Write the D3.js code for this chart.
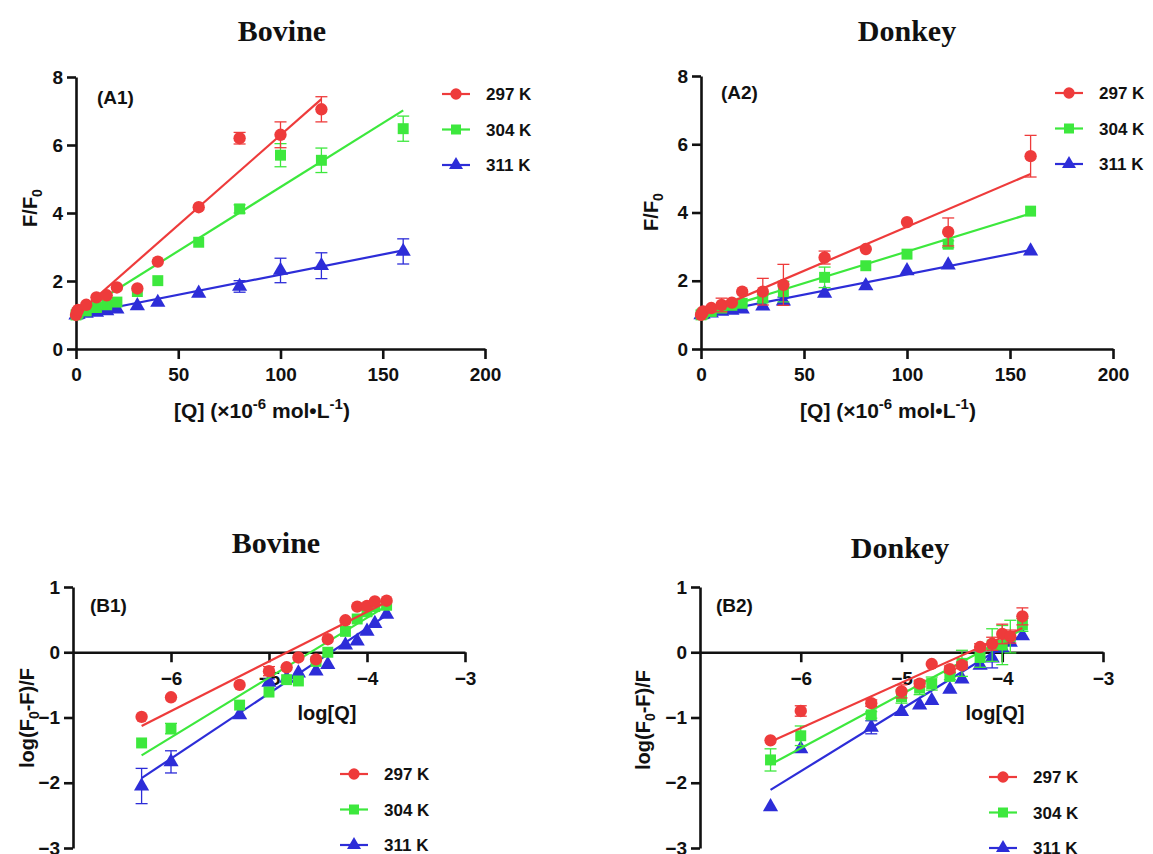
<!DOCTYPE html>
<html>
<head>
<meta charset="utf-8">
<script src="https://cdn.jsdelivr.net/npm/d3@7"></script>
<style>
  body { margin: 0; background: #fff; }
  text { font-family: "Liberation Sans", Arial, sans-serif; font-weight: bold; }
  .title { font-family: "Liberation Serif", "Times New Roman", serif; font-size: 30px; }
</style>
</head>
<body>
<svg id="chart" width="1153" height="854"></svg>
<script>
// ---- data ----
const temps = ["297 K", "304 K", "311 K"]
const colors = ["#ee3b3b", "#3de83d", "#2d2dd8"]
const shapes = [d3.symbolCircle, d3.symbolSquare, d3.symbolTriangle]

// Stern-Volmer, [Q] in 1e-6 mol/L
const qA = [0, 0.5, 1, 5, 10, 15, 20, 30, 40, 60, 80, 100, 120, 160]
const bovA_297 = [1.0, 1.1, 1.15, 1.30, 1.52, 1.58, 1.81, 1.78, 2.57, 4.17, 6.20, 6.30, 7.05, null]
const bovA_304 = [1.0, 1.03, 1.06, 1.12, 1.22, 1.30, 1.38, 1.69, 2.01, 3.14, 4.12, 5.70, 5.55, 6.48]
const bovA_311 = [1.0, 1.01, 1.02, 1.05, 1.08, 1.12, 1.17, 1.27, 1.37, 1.64, 1.84, 2.31, 2.45, 2.87]
const bovA_297_err = [0, 0, 0, 0, 0, 0, 0, 0, 0, 0, 0.17, 0.38, 0.37, null]
const bovA_304_err = [0, 0, 0, 0, 0, 0, 0, 0, 0, 0, 0.12, 0.34, 0.36, 0.37]
const bovA_311_err = [0, 0, 0, 0, 0, 0, 0, 0, 0, 0, 0.17, 0.36, 0.38, 0.37]
// fitted lines: [x0, y0, x1, y1]
const bovA_fit = [[0, 1.0, 120, 7.35], [0, 1.0, 160, 7.02], [0, 1.0, 160, 2.90]]

const donA_297 = [1.0, 1.05, 1.1, 1.2, 1.29, 1.36, 1.68, 1.68, 1.88, 2.68, 2.93, 3.72, 3.43, 5.65]
const donA_304 = [1.0, 1.02, 1.05, 1.1, 1.2, 1.28, 1.34, 1.49, 1.68, 2.10, 2.44, 2.78, 3.07, 4.04]
const donA_311 = [1.0, 1.01, 1.02, 1.05, 1.1, 1.13, 1.17, 1.26, 1.40, 1.63, 1.85, 2.29, 2.46, 2.87]
const donA_297_err = [0, 0, 0, 0, 0.2, 0, 0, 0.39, 0.6, 0.19, 0, 0, 0.41, 0.61]
const donA_304_err = [0, 0, 0, 0, 0, 0, 0, 0.1, 0.3, 0.3, 0, 0, 0.1, 0]
const donA_311_err = [0, 0, 0, 0, 0, 0, 0, 0, 0.12, 0, 0, 0, 0, 0]
const donA_fit = [[0, 1.0, 160, 5.13], [0, 1.0, 160, 3.97], [0, 1.0, 160, 2.90]]

// double-log plot
const logQ = [-6.3, -6, -5.3, -5, -4.82, -4.7, -4.52, -4.4, -4.22, -4.1, -4, -3.92, -3.8]
const bovB_297 = [-0.99, -0.69, -0.50, -0.29, -0.23, -0.08, -0.11, 0.20, 0.49, 0.70, 0.71, 0.78, 0.79]
const bovB_304 = [-1.39, -1.17, -0.81, -0.61, -0.42, -0.44, -0.14, 0.0, 0.32, 0.51, 0.62, 0.70, 0.72]
const bovB_311 = [-2.05, -1.68, -0.96, -0.46, -0.40, -0.32, -0.29, -0.19, 0.11, 0.17, 0.32, 0.44, 0.58]
const bovB_297_err = [0, 0, 0, 0.07, 0, 0, 0, 0, 0, 0, 0, 0, 0]
const bovB_304_err = [0, 0.08, 0, 0, 0, 0, 0, 0, 0, 0, 0, 0, 0]
const bovB_311_err = [0.27, 0.17, 0, 0.05, 0, 0, 0, 0, 0, 0, 0, 0, 0]
const bovB_fit = [[-6.3, -1.13, -3.8, 0.77], [-6.3, -1.58, -3.8, 0.71], [-6.3, -1.93, -3.8, 0.57]]

const donB_297 = [-1.35, -0.90, -0.78, -0.60, -0.48, -0.18, -0.26, -0.20, 0.08, 0.13, 0.28, 0.24, 0.55]
const donB_304 = [-1.65, -1.28, -0.96, -0.68, -0.55, -0.48, -0.37, -0.17, -0.08, 0.11, 0.11, 0.24, 0.42]
const donB_311 = [-2.37, -1.48, -1.15, -0.91, -0.81, -0.74, -0.57, -0.41, -0.20, -0.09, 0.06, 0.15, 0.25]
const donB_297_err = [0, 0.08, 0.05, 0.1, 0.05, 0, 0.05, 0.05, 0.05, 0.1, 0.15, 0.1, 0.13]
const donB_304_err = [0.17, 0.15, 0.05, 0.1, 0.1, 0.1, 0.05, 0.2, 0.15, 0.25, 0.3, 0.25, 0.1]
const donB_311_err = [0, 0, 0.1, 0, 0, 0, 0, 0, 0, 0.15, 0, 0, 0]
const donB_fit = [[-6.3, -1.37, -3.8, 0.37], [-6.3, -1.72, -3.8, 0.35], [-6.3, -2.11, -3.8, 0.27]]

const xTicksA = [0, 50, 100, 150, 200]
const yTicksA = [0, 2, 4, 6, 8]
const xTicksB = [-6, -5, -4, -3]
const yTicksB = [-3, -2, -1, 0, 1]

const svg = d3.select("#chart")

function styleAxis(g){
    g.attr("font-size", null).attr("font-family", null)
    g.select(".domain").attr("stroke", "#111").attr("stroke-width", 2.6)
    g.selectAll(".tick line").attr("stroke", "#111").attr("stroke-width", 2.6)
    g.selectAll(".tick text").attr("fill", "#111")
        .style("font-size", "19px").style("font-weight", "bold")
        .style("font-family", '"Liberation Sans", Arial, sans-serif')
}

function drawPanel(p){
    const xScale = d3.scaleLinear().domain(p.xDom).range(p.xRange)
    const yScale = d3.scaleLinear().domain(p.yDom).range(p.yRange)
    const g = svg.append("g")

    // axes
    const xAxis = d3.axisBottom(xScale).tickValues(p.xTicks).tickFormat(d3.format("d"))
        .tickSize(10).tickSizeOuter(0).tickPadding(9)
    const yAxis = d3.axisLeft(yScale).tickValues(p.yTicks).tickFormat(d3.format("d"))
        .tickSize(9).tickSizeOuter(0).tickPadding(4)
    g.append("g")
        .attr("transform", `translate(0,${yScale(p.xAxisAt)})`)
        .call(xAxis).call(styleAxis)
    g.append("g")
        .attr("transform", `translate(${xScale(p.xDom[0])},0)`)
        .call(yAxis).call(styleAxis)

    // series, blue first so red sits on top
    for (let s = 2; s >= 0; s--) {
        const col = colors[s]
        const pts = p.xs.map((x, i) => ({x: x, y: p.ys[s][i], e: p.errs[s][i]}))
            .filter(d => d.y != null)
        const f = p.fits[s]
        g.append("line")
            .attr("x1", xScale(f[0])).attr("y1", yScale(f[1]))
            .attr("x2", xScale(f[2])).attr("y2", yScale(f[3]))
            .attr("stroke", col).attr("stroke-width", 2.2)

        const eb = g.selectAll(null).data(pts.filter(d => d.e > 0)).enter().append("g")
            .attr("stroke", col).attr("stroke-width", 1.3)
        eb.append("line")
            .attr("x1", d => xScale(d.x)).attr("x2", d => xScale(d.x))
            .attr("y1", d => yScale(d.y - d.e)).attr("y2", d => yScale(d.y + d.e))
        eb.append("line")
            .attr("x1", d => xScale(d.x) - 6).attr("x2", d => xScale(d.x) + 6)
            .attr("y1", d => yScale(d.y + d.e)).attr("y2", d => yScale(d.y + d.e))
        eb.append("line")
            .attr("x1", d => xScale(d.x) - 6).attr("x2", d => xScale(d.x) + 6)
            .attr("y1", d => yScale(d.y - d.e)).attr("y2", d => yScale(d.y - d.e))

        g.selectAll(null).data(pts).enter().append("path")
            .attr("d", d3.symbol().type(shapes[s]).size(s == 2 ? 100 : 120))
            .attr("transform", d => `translate(${xScale(d.x)},${yScale(d.y)})`)
            .attr("fill", col)
    }

    // legend
    temps.forEach((t, i) => {
        const ly = p.legend[1] + i * 35.5
        g.append("line").attr("x1", p.legend[0] - 14).attr("x2", p.legend[0] + 14)
            .attr("y1", ly).attr("y2", ly).attr("stroke", colors[i]).attr("stroke-width", 2.2)
        g.append("path").attr("d", d3.symbol().type(shapes[i]).size(i == 2 ? 85 : 100))
            .attr("transform", `translate(${p.legend[0]},${ly})`).attr("fill", colors[i])
        g.append("text").attr("x", p.legend[0] + 30).attr("y", ly + 6)
            .style("font-size", "17px").attr("fill", "#111").text(t)
    })

    // panel tag and title
    g.append("text").attr("x", p.tag[0]).attr("y", p.tag[1])
        .style("font-size", "19px").attr("fill", "#111").text(p.tagText)
    g.append("text").attr("class", "title").attr("x", p.title[0]).attr("y", p.title[1])
        .attr("text-anchor", "middle").attr("fill", "#111").text(p.titleText)
}

function drawLabelA(x, y){
    const t = svg.append("text").attr("x", x).attr("y", y).attr("text-anchor", "middle")
        .style("font-size", "21px").attr("fill", "#111")
    t.append("tspan").text("[Q] (×10")
    t.append("tspan").attr("dy", -9).style("font-size", "15px").text("-6")
    t.append("tspan").attr("dy", 9).text(" mol•L")
    t.append("tspan").attr("dy", -9).style("font-size", "15px").text("-1")
    t.append("tspan").attr("dy", 9).text(")")
}
function drawYLabelA(x, y){
    const t = svg.append("text").attr("transform", `translate(${x},${y}) rotate(-90)`)
        .attr("text-anchor", "middle").style("font-size", "20px").attr("fill", "#111")
    t.append("tspan").text("F/F")
    t.append("tspan").attr("dy", 5).style("font-size", "14px").text("0")
}
function drawYLabelB(x, y){
    const t = svg.append("text").attr("transform", `translate(${x},${y}) rotate(-90)`)
        .attr("text-anchor", "middle").style("font-size", "20px").attr("fill", "#111")
    t.append("tspan").text("log(F")
    t.append("tspan").attr("dy", 5).style("font-size", "14px").text("0")
    t.append("tspan").attr("dy", -5).text("-F)/F")
}
function drawLogQ(x, y){
    svg.append("text").attr("x", x).attr("y", y).attr("text-anchor", "middle")
        .style("font-size", "20px").attr("fill", "#111").text("log[Q]")
}

drawPanel({
    xDom: [0, 200], xRange: [76, 485], yDom: [0, 8], yRange: [349, 77], xAxisAt: 0,
    xTicks: xTicksA, yTicks: yTicksA, xs: qA,
    ys: [bovA_297, bovA_304, bovA_311], errs: [bovA_297_err, bovA_304_err, bovA_311_err], fits: bovA_fit,
    legend: [456, 94], tag: [97, 104], tagText: "(A1)", title: [282, 41], titleText: "Bovine"
})
drawPanel({
    xDom: [0, 200], xRange: [701, 1113], yDom: [0, 8], yRange: [349, 76], xAxisAt: 0,
    xTicks: xTicksA, yTicks: yTicksA, xs: qA,
    ys: [donA_297, donA_304, donA_311], errs: [donA_297_err, donA_304_err, donA_311_err], fits: donA_fit,
    legend: [1069, 93], tag: [721, 99], tagText: "(A2)", title: [907, 41], titleText: "Donkey"
})
drawPanel({
    xDom: [-7, -3], xRange: [73, 465], yDom: [-3, 1], yRange: [848, 587], xAxisAt: 0,
    xTicks: xTicksB, yTicks: yTicksB, xs: logQ,
    ys: [bovB_297, bovB_304, bovB_311], errs: [bovB_297_err, bovB_304_err, bovB_311_err], fits: bovB_fit,
    legend: [354, 774], tag: [90, 612], tagText: "(B1)", title: [276, 553], titleText: "Bovine"
})
drawPanel({
    xDom: [-7, -3], xRange: [700, 1103], yDom: [-3, 1], yRange: [848, 587], xAxisAt: 0,
    xTicks: xTicksB, yTicks: yTicksB, xs: logQ,
    ys: [donB_297, donB_304, donB_311], errs: [donB_297_err, donB_304_err, donB_311_err], fits: donB_fit,
    legend: [1003, 777], tag: [716, 612], tagText: "(B2)", title: [900, 558], titleText: "Donkey"
})

drawLabelA(262, 418)
drawLabelA(888, 418)
drawYLabelA(37, 208)
drawYLabelA(658, 212)
drawYLabelB(34, 718)
drawYLabelB(650, 720)
drawLogQ(327, 720)
drawLogQ(995, 720)
</script>
</body>
</html>
